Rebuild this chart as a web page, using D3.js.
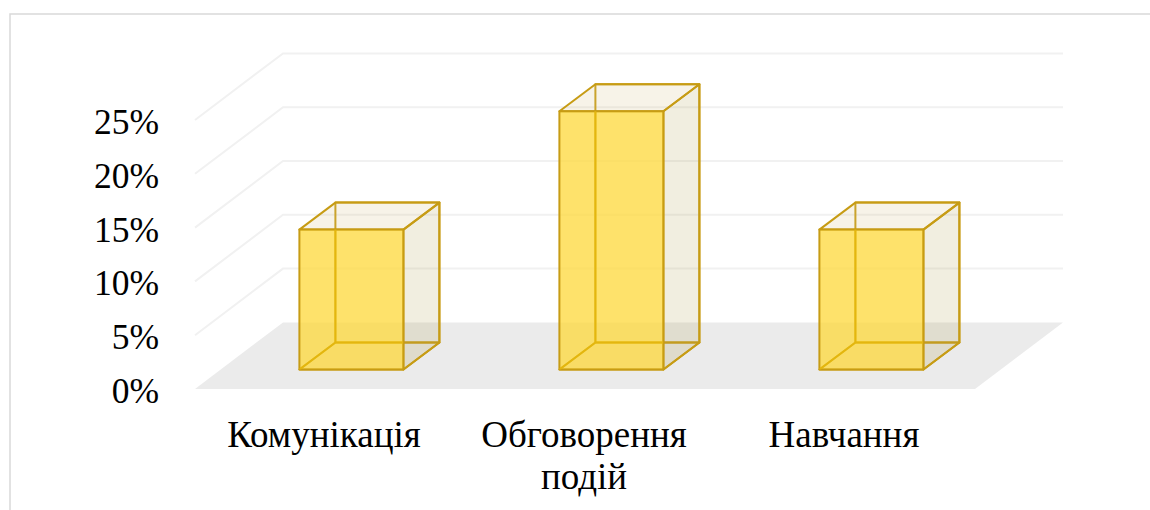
<!DOCTYPE html>
<html>
<head>
<meta charset="utf-8">
<script src="https://cdn.jsdelivr.net/npm/d3@7"></script>
<style>
html,body{margin:0;padding:0;background:#fff;overflow:hidden}
svg{display:block}
text{font-family:"Liberation Serif","Times New Roman",serif;fill:#000}
</style>
</head>
<body>
<svg id="chart" width="1150" height="510"></svg>
<script>
const categories = [["Комунікація"], ["Обговорення", "подій"], ["Навчання"]];
const shares = [13, 24, 13];
const tickValues = [0, 5, 10, 15, 20, 25];

// Oblique projection: floor front edge, wall offset and bar depth
const floorLeft = 195, floorRight = 975, floorFront = 389;
const wallDx = 88, wallDy = -66.6;
const barInsetDx = 26.4, barInsetDy = -19.5;
const barDx = 36, barDy = -27;

const svg = d3.select("#chart");
const x = d3.scaleBand().domain(d3.range(categories.length)).range([floorLeft, floorRight]).paddingInner(0.6).paddingOuter(0.3);
const y = d3.scaleLinear().domain([0, 25]).range([0, 269]);
const poly = d3.line();

// Chart frame
svg.append("path").attr("d", "M10,510V14H1150").attr("fill", "none").attr("stroke", "#d9d9d9").attr("stroke-width", 1.5);

// Floor and wall gridlines
svg.append("path")
  .attr("d", poly([[floorLeft, floorFront], [floorRight, floorFront], [floorRight + wallDx, floorFront + wallDy], [floorLeft + wallDx, floorFront + wallDy]]) + "Z")
  .attr("fill", "#ebebeb");
svg.append("g").selectAll("path").data(tickValues.slice(1)).join("path")
  .attr("d", d => poly([
    [floorLeft, floorFront - y(d)],
    [floorLeft + wallDx, floorFront + wallDy - y(d)],
    [floorRight + wallDx, floorFront + wallDy - y(d)]
  ]))
  .attr("fill", "none").attr("stroke", "#f1f1f1").attr("stroke-width", 2);

// Value axis labels
svg.append("g").selectAll("text").data(tickValues).join("text")
  .attr("x", 159).attr("y", d => floorFront - y(d) + 14)
  .attr("text-anchor", "end").attr("font-size", 35.5)
  .text(d => d + "%");

// Category labels
const catGroup = svg.append("g").selectAll("text").data(categories).join("text")
  .attr("font-size", 37).attr("text-anchor", "middle")
  .attr("transform", (d, i) => `translate(${x(i) + x.bandwidth() / 2 - 1},447)`);
catGroup.selectAll("tspan").data(d => d).join("tspan")
  .attr("x", 0).attr("y", (d, i) => i * 42).text(d => d);

// Translucent 3D bars: back faces first, then side, top and front
const stroke = "#c79c14";
const bars = svg.append("g").selectAll("g").data(shares).join("g");
function face(sel, pts, fill, opacity) {
  sel.append("path")
    .attr("d", (d, i) => poly(pts(d, i)) + "Z")
    .attr("fill", fill).attr("fill-opacity", opacity)
    .attr("stroke", stroke).attr("stroke-width", 2).attr("stroke-linejoin", "round");
}
const L = (d, i) => x(i) + barInsetDx;
const R = (d, i) => x(i) + barInsetDx + x.bandwidth();
const B = floorFront + barInsetDy;
const T = d => B - y(d);

// back face
face(bars, (d, i) => [[L(d, i) + barDx, B + barDy], [R(d, i) + barDx, B + barDy], [R(d, i) + barDx, T(d) + barDy], [L(d, i) + barDx, T(d) + barDy]], "none", 0);
// bottom
face(bars, (d, i) => [[L(d, i), B], [R(d, i), B], [R(d, i) + barDx, B + barDy], [L(d, i) + barDx, B + barDy]], "#b4a055", 0.03);
// right side
face(bars, (d, i) => [[R(d, i), B], [R(d, i) + barDx, B + barDy], [R(d, i) + barDx, T(d) + barDy], [R(d, i), T(d)]], "#b4a055", 0.18);
// top
face(bars, (d, i) => [[L(d, i), T(d)], [R(d, i), T(d)], [R(d, i) + barDx, T(d) + barDy], [L(d, i) + barDx, T(d) + barDy]], "#d7c38c", 0.2);
// front
face(bars, (d, i) => [[L(d, i), B], [R(d, i), B], [R(d, i), T(d)], [L(d, i), T(d)]], "#fdd83a", 0.75);

// Edges behind the front face show through it in a stronger yellow
svg.append("defs").selectAll("clipPath").data(shares).join("clipPath")
  .attr("id", (d, i) => "front-" + i)
  .append("path")
  .attr("d", (d, i) => poly([[L(d, i), B], [R(d, i), B], [R(d, i), T(d)], [L(d, i), T(d)]]) + "Z");
bars.append("path")
  .attr("clip-path", (d, i) => `url(#front-${i})`)
  .attr("d", (d, i) => poly([[L(d, i), B], [L(d, i) + barDx, B + barDy], [L(d, i) + barDx, T(d) + barDy]]) + "M" + [L(d, i) + barDx, B + barDy] + "H" + R(d, i))
  .attr("fill", "none").attr("stroke", "#e3b60f").attr("stroke-width", 2);
</script>
</body>
</html>
